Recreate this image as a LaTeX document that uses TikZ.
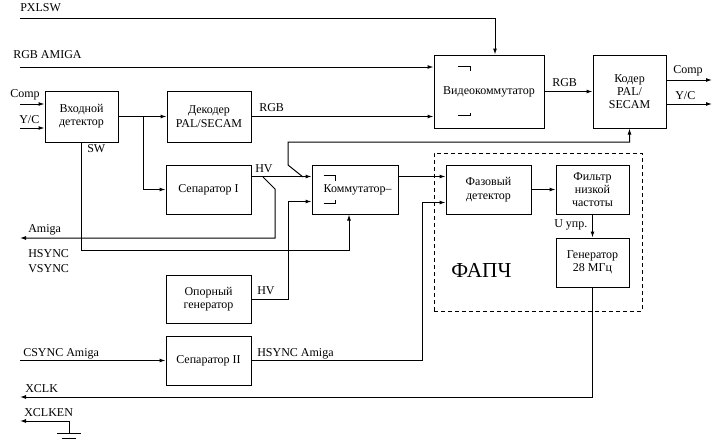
\documentclass[tikz,border=0pt]{standalone}
\usepackage{fontspec}
\setmainfont{Liberation Serif}
\usetikzlibrary{arrows.meta,positioning,calc}
\definecolor{ink}{HTML}{000000}
\tikzset{
  blk/.style  ={draw=ink, line width=0.75pt, inner sep=1pt, align=center,
                minimum width=63.75pt, minimum height=36.75pt,
                font=\fontsize{9}{10}\selectfont},
  nblk/.style ={blk, minimum width=54.75pt},
  arr/.style  ={-{Latex[length=4.5pt,width=3pt]}, line width=0.75pt, draw=ink},
  wire/.style ={line width=0.75pt, draw=ink},
  lbl/.style  ={font=\fontsize{9}{10}\selectfont, inner sep=0pt,
                anchor=base west, text=ink},
  pll/.style  ={draw=ink, line width=0.75pt, dash pattern=on 3pt off 2.25pt},
}
\begin{document}
\begin{tikzpicture}[x=0.75pt,y=-0.75pt]
  \useasboundingbox (0,0) rectangle (720,446);
  % the PLL frame
  \node[pll, minimum width=156pt, minimum height=118.5pt] (fapch) at (538,232) {};
  \node[lbl, font=\fontsize{16}{18}\selectfont] (fapchl) at (451,277) {ФАПЧ};
  % blocks
  \node[nblk, minimum height=38.25pt] (indet) at (81.5,116.5) {Входной\\детектор};
  \node[blk, minimum width=63pt, minimum height=38.25pt] (dec) at (209,116.5) {Декодер\\PAL/SECAM};
  \node[blk, minimum width=82.5pt, minimum height=54.75pt] (vcom) at (489,91.5) {Видеокоммутатор};
  \node[nblk, minimum height=54.75pt] (coder) at (629.5,91.5) {Кодер\\PAL/\\SECAM};
  \node[blk] (sep1) at (208.5,189.5) {Сепаратор I};
  \node[blk, minimum width=64.5pt] (comm) at (355,189.5) {\hspace*{4pt}Коммутатор–};
  \node[blk] (phase) at (488.5,189.5) {Фазовый\\детектор};
  \node[nblk] (filt) at (592.5,189.5) {Фильтр\\низкой\\частоты};
  \node[nblk] (gen) at (592.5,262.5) {Генератор\\28 МГц};
  \node[blk, minimum height=36pt] (refgen) at (208.5,299) {Опорный\\генератор};
  \node[blk] (sep2) at (208.5,360.5) {Сепаратор II};
  % switch marks
  \draw[wire] ($(vcom.north west)+(24,12)$) -- ++(13,0) -- ++(0,4);
  \draw[wire] ($(vcom.south west)+(24,-13)$) -- ++(13,0) -- ++(0,-3);
  \draw[wire] ($(comm.north west)+(12,11)$) -- ++(12,0) -- ++(0,5);
  \draw[wire] ($(comm.south west)+(12,-11)$) -- ++(12,0) -- ++(0,-4);
  % free ends
  \coordinate (pxl) at (20,18);
  \coordinate (rgba) at (20,67);
  \coordinate (comp) at (20,104);
  \coordinate (yc) at (20,128);
  \coordinate (compout) at (712,80);
  \coordinate (ycout) at (712,104);
  \coordinate (amiga) at (20,238);
  \coordinate (csync) at (20,360.5);
  \coordinate (xclk) at (20,397);
  \coordinate (xclken) at (20,421);
  \coordinate (gnd) at (69,433);
  \coordinate (br1) at (143,116.5);
  \coordinate (tapa) at (263,177);
  \coordinate (tapb) at (303,177);
  \coordinate (cin1) at ($(comm.north west)+(0,12)$);
  \coordinate (cin2) at ($(comm.south west)+(0,-13)$);
  \coordinate (pin1) at ($(phase.north west)+(0,12)$);
  \coordinate (pin2) at ($(phase.south west)+(0,-12)$);
  % connectors
  \draw[arr] (pxl) -| ($(vcom.north)+(6,0)$);
  \draw[arr] (rgba) -- (rgba -| vcom.west);
  \draw[arr] (comp) -- (comp -| indet.west);
  \draw[arr] (yc) -- (yc -| indet.west);
  \draw[arr] (indet.east) -- (dec.west);
  \draw[arr] (br1) |- (sep1.west);
  \draw[arr] (dec.east) -- (dec.east -| vcom.west);
  \draw[arr] (vcom.east) -- (coder.west);
  \draw[arr] (coder.east |- compout) -- (compout);
  \draw[arr] (coder.east |- ycout) -- (ycout);
  \draw[arr] (sep1.east |- cin1) -- (cin1);
  \draw[arr] (tapa) -- (275,189) |- (amiga);
  \draw[arr] (tapb) -- (288,165) -- (288,142) -| (coder.south);
  \draw[arr] (refgen.east) -- ++(37,0) |- (cin2);
  \draw[arr] (indet.south) |- ($(comm.south)+(-6,36)$) -- ($(comm.south)+(-6,0)$);
  \draw[arr] (comm.east |- pin1) -- (pin1);
  \draw[arr] (csync) -- (sep2.west);
  \draw[arr] (sep2.east) -| ($(pin2)+(-23,0)$) -- (pin2);
  \draw[arr] (phase.east) -- (filt.west);
  \draw[arr] (filt.south) -- (gen.north);
  \draw[arr] (gen.south) |- (xclk);
  \draw[arr] (gnd) |- (xclken);
  \draw[wire] (57,433) -- (81,433);
  \draw[wire] (62,438) -- (76,438);
  % labels
  \node[lbl] (lpxl) at (20,12) {PXLSW};
  \node[lbl] (lrgba) at (13,58) {RGB AMIGA};
  \node[lbl] (lcomp) at (10,97) {Comp};
  \node[lbl] (lyc) at (19,123) {Y/C};
  \node[lbl] (lrgb1) at (259,111) {RGB};
  \node[lbl] (lrgb2) at (552,86) {RGB};
  \node[lbl] (lcompo) at (673,73) {Comp};
  \node[lbl] (lyco) at (675,99) {Y/C};
  \node[lbl] (lsw) at (87,152) {SW};
  \node[lbl] (lhv1) at (255,172) {HV};
  \node[lbl] (lamiga) at (28,232) {Amiga};
  \node[lbl] (lhs) at (28,257) {HSYNC};
  \node[lbl] (lvs) at (28,272) {VSYNC};
  \node[lbl] (lhv2) at (257,294) {HV};
  \node[lbl] (lcs) at (23,356) {CSYNC Amiga};
  \node[lbl] (lhsa) at (257,356) {HSYNC Amiga};
  \node[lbl] (lupr) at (554,227) {U упр.};
  \node[lbl] (lxclk) at (25,392) {XCLK};
  \node[lbl] (lxen) at (24,416) {XCLKEN};
\end{tikzpicture}
\end{document}
